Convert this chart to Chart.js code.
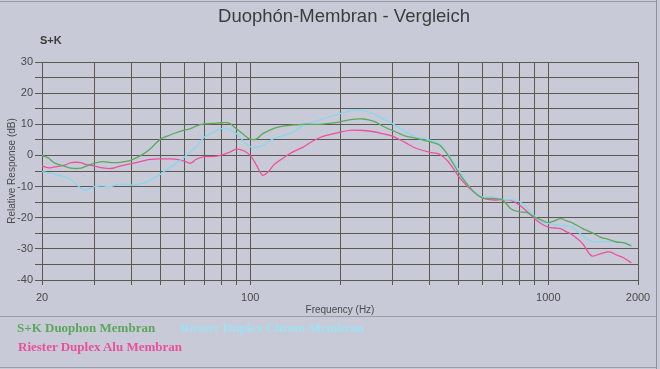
<!DOCTYPE html>
<html>
<head>
<meta charset="utf-8">
<script src="https://cdn.jsdelivr.net/npm/chart.js@4.4.1/dist/chart.umd.min.js"></script>
<style>
  html, body { margin: 0; padding: 0; background: #c8cbd7; }
  #wrap { position: relative; width: 660px; height: 369px; overflow: hidden; }
  #chart { position: absolute; left: 0; top: 0; }
  .title { position: absolute; left: 0; width: 688px; top: 5px; text-align: center;
           font: 18.5px "Liberation Sans", Arial, sans-serif; color: #3c3c3c; }
  .sk { position: absolute; left: 40px; top: 34px; font: bold 11px "Liberation Sans", Arial, sans-serif; color: #3a3a3a; }
  .legend { position: absolute; left: 0; top: 316px; width: 656px; height: 50px;
            border-top: 1px solid #9a9ca6; border-bottom: 1px solid #9a9ca6; }
  .legend span { position: absolute; font: bold 13px "Liberation Serif", "DejaVu Serif", serif; white-space: nowrap; }
  .frame-r { position: absolute; left: 656px; top: 0; width: 1px; height: 369px; background: #8e909a; }
  .frame-t { position: absolute; left: 0; top: 1px; width: 656px; height: 1px; background: #9a9ca6; }
</style>
</head>
<body>
<div id="wrap">
  <canvas id="chart" width="660" height="369"></canvas>
  <div class="frame-t"></div>
  <div class="frame-r"></div>
  <div class="title">Duophón-Membran - Vergleich</div>
  <div class="sk">S+K</div>
  <div class="legend">
    <span style="left:17px; top:3px; color:#5ba65b;">S+K Duophon Membran</span>
    <span style="left:180px; top:3px; color:#9fe0f2;">Riester Duplex Chrom Membran</span>
    <span style="left:18px; top:22px; color:#ea4f9c;">Riester Duplex Alu Membran</span>
  </div>
</div>
<script>
// --- DATA ---
const freqs = [20, 21, 22, 24, 25, 27, 28, 30, 32, 34, 36, 38, 40, 43, 46, 50, 53, 56, 60, 63, 66, 70, 75, 80, 85, 90, 95,
  100, 105, 110, 115, 120, 130, 140, 150, 160, 170, 180, 200, 220, 240, 260, 280, 300, 330, 360, 400, 430, 460,
  500, 530, 560, 600, 650, 700, 750, 800, 850, 900, 950, 1000, 1050, 1100, 1150, 1200, 1300, 1400, 1500, 1600, 1700, 1800, 1900];

const skDuophon = [0, -0.8, -2.4, -3.6, -4.1, -4.1, -3.5, -2.5, -2, -2.3, -2.3, -2, -1.4, 0, 2, 5.3, 6.3, 7.2, 8.1, 8.6, 9.5, 10.1, 10.3, 10.5, 10.4, 8.5, 6.7,
  5.2, 5.3, 7, 7.9, 8.7, 9.5, 9.8, 10, 10, 10, 10.2, 10.8, 11.6, 11.7, 10.9, 9.3, 8, 6.3, 5.5, 4.4, 3.4, 0.2,
  -5.5, -8.8, -11.5, -13.6, -13.8, -14.2, -17.2, -18.1, -18.4, -19.8, -20.8, -21.6, -21, -20.3, -21, -21.6, -23.4, -24.8, -26.3, -27, -27.8, -28.1, -29];

const riesterChrom = [-5.2, -5.6, -6, -7, -7.8, -10.5, -11.2, -10, -9.8, -10, -9.3, -9.2, -9.5, -9.1, -8, -6, -4.2, -2.8, -0.6, 1.2, 2.9, 5.8, 7.5, 8.6, 8.4, 7, 4.5,
  2.8, 2.6, 3.2, 4.3, 5.5, 6.5, 7.6, 9.5, 10.5, 11.3, 12.1, 13.4, 14.5, 14.4, 13.3, 11.6, 10.2, 7.7, 6, 4.9, 3.8, 0.4,
  -4.5, -8.6, -11.5, -13.3, -13.3, -14.1, -14.3, -14.8, -17, -19.5, -21.3, -21.8, -22.2, -22.4, -22.7, -22.9, -25.6, -27.6, -27.7, -27.7, -27.8, -28, -29.5];

const riesterAlu = [-3.4, -4, -3.7, -3, -2.3, -2.3, -2.9, -3.4, -4, -4.2, -3.6, -3, -2.6, -1.9, -1.3, -1.1, -1.1, -1.2, -1.8, -2.5, -1.2, -0.4, -0.4, 0.1, 1, 2, 1.5,
  0, -3.2, -6.4, -5.2, -3, -0.6, 1.3, 2.6, 4.3, 5.6, 6.4, 7.5, 8.1, 8, 7.6, 6.9, 6.2, 4.2, 2.3, 1, 0.4, -1.8,
  -6.7, -9.5, -11.6, -13.6, -14.3, -14.2, -14.4, -15.9, -18.1, -20.3, -22, -23, -23.3, -23.5, -24.5, -25.4, -28.2, -32.3, -31.5, -31, -32, -33, -34.5];

const xGridTicks = [20, 30, 40, 50, 60, 70, 80, 90, 100, 200, 300, 400, 500, 600, 700, 800, 900, 1000, 2000];
const xLabelTicks = [20, 100, 1000, 2000];

const GRID = '#5c574f';

function series(ys) {
  return freqs.map((f, i) => ({ x: f, y: ys[i] }));
}

function makeDataset(label, ys, color) {
  return { label, data: series(ys), borderColor: color, borderWidth: 1.3, pointRadius: 0, tension: 0.3, fill: false };
}

new Chart(document.getElementById('chart'), {
  type: 'line',
  data: {
    datasets: [
      makeDataset('S+K Duophon Membran', skDuophon, '#5ca85c'),
      makeDataset('Riester Duplex Chrom Membran', riesterChrom, '#86d8ee'),
      makeDataset('Riester Duplex Alu Membran', riesterAlu, '#ee4f9e')
    ]
  },
  options: {
    responsive: false,
    animation: false,
    layout: { padding: { top: 62, left: 0, right: 22, bottom: 53 } },
    plugins: { legend: { display: false }, tooltip: { enabled: false } },
    scales: {
      x: {
        type: 'logarithmic', min: 20, max: 2000,
        afterBuildTicks: (scale) => { scale.ticks = xGridTicks.map(v => ({ value: v })); },
        afterFit: (scale) => { scale.height = 36; },
        grid: { color: GRID, tickLength: 5 },
        border: { color: GRID },
        ticks: {
          autoSkip: false, maxRotation: 0, padding: 6, color: '#4a4a4a',
          font: { family: 'Liberation Sans', size: 11 },
          callback: (v) => xLabelTicks.includes(v) ? String(v) : ''
        },
        title: { display: true, text: 'Frequency (Hz)', color: '#4a4a4a', font: { family: 'Liberation Sans', size: 10 }, padding: { top: 0, bottom: 0 } }
      },
      y: {
        min: -40, max: 30,
        afterFit: (scale) => { scale.width = 42; },
        grid: { color: GRID, tickLength: 7 },
        border: { color: GRID },
        ticks: {
          stepSize: 5, maxTicksLimit: 20, autoSkip: false, padding: 2, color: '#4a4a4a',
          font: { family: 'Liberation Sans', size: 11 },
          callback: (v) => v % 10 === 0 ? String(v) : ''
        },
        title: { display: true, text: 'Relative Response (dB)', color: '#4a4a4a', font: { family: 'Liberation Sans', size: 10 }, padding: { top: 6, bottom: 0 } }
      }
    }
  }
});
</script>
</body>
</html>
